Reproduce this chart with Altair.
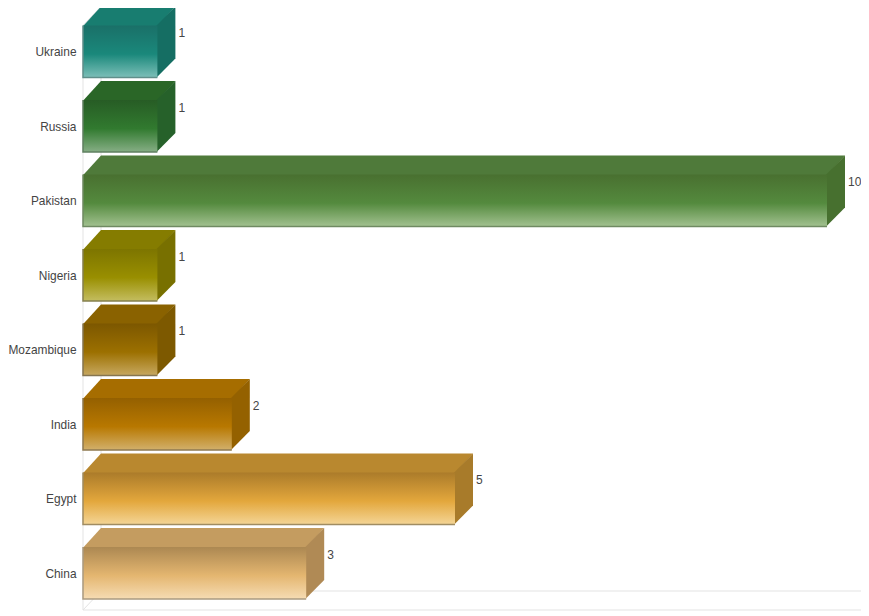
import altair as alt
import pandas as pd

categories = ["China", "Egypt", "India", "Mozambique", "Nigeria", "Pakistan", "Russia", "Ukraine"]
values = [3, 5, 2, 1, 1, 10, 1, 1]
grad_top = ["#ac8852", "#ab7b2a", "#946000", "#7c5700", "#7d7500", "#497030", "#275c25", "#1a7068"]
grad_mid = ["#e4b670", "#e3a73c", "#b87800", "#9c7000", "#998f00", "#548a3e", "#317a2f", "#1a887b"]
grad_low = ["#f6dcb3", "#f4d596", "#d2b06b", "#c7a860", "#c4bd60", "#a2c190", "#86ae85", "#7cbfb8"]
top_face = ["#c49c60", "#b9882f", "#a66d00", "#8a6200", "#857c00", "#4f7a3a", "#2a6627", "#187d70"]
side_face = ["#b08a55", "#a87b2a", "#946100", "#7d5900", "#787000", "#47702f", "#26612a", "#156e63"]
edge = ["#ab9a80", "#a08c62", "#8f7a50", "#857550", "#85804f", "#6f8a62", "#5f8060", "#5f8f8a"]

PX_X = 74.4
PX_Y = 74.5
BAR_H = 52 / PX_Y
DX = 18 / PX_X
DY = 19 / PX_Y
W, H = 778, 602
XMAX = W / PX_X
YMIN = -11 / PX_Y
YMAX = YMIN + H / PX_Y

names = "[" + ",".join(f"'{c}'" for c in categories) + "]"
tick_pos = [r + BAR_H / 2 for r in range(len(categories))]
y_axis = alt.Axis(
    values=tick_pos, title=None, domain=False, ticks=False, grid=False,
    labelExpr=names + "[floor(datum.value)]",
    labelFont="Liberation Sans", labelFontSize=11.9, labelColor="#444444", labelPadding=7,
    labelOverlap=False,
)

xs = alt.Scale(domain=[0, XMAX], nice=False, zero=False)
ys = alt.Scale(domain=[YMIN, YMAX], nice=False, zero=False)
X = lambda f: alt.X(f, type="quantitative", scale=xs, axis=None)
Y = lambda f: alt.Y(f, type="quantitative", scale=ys, axis=y_axis)

wall_color = "#e3e3e3"
walls = [
    pd.DataFrame({"x": [0, XMAX], "y": [YMIN, YMIN]}),
    pd.DataFrame({"x": [DX, XMAX], "y": [YMIN + DY, YMIN + DY]}),
    pd.DataFrame({"x": [0, DX], "y": [YMIN, YMIN + DY]}),
    pd.DataFrame({"x": [0, 0], "y": [YMIN, 7 + BAR_H]}),
    pd.DataFrame({"x": [0, DX], "y": [7 + BAR_H, 7 + BAR_H + DY]}),
    pd.DataFrame({"x": [DX, DX], "y": [YMIN + DY, 7 + BAR_H + DY]}),
]
layers = [
    alt.Chart(w).mark_line(color=wall_color, strokeWidth=1, clip=False).encode(X("x"), Y("y"))
    for w in walls
]

for r, v in enumerate(values):
    gradient = alt.Gradient(
        gradient="linear", x1=0, x2=0, y1=0, y2=1,
        stops=[
            alt.GradientStop(color=grad_top[r], offset=0),
            alt.GradientStop(color=grad_mid[r], offset=0.55),
            alt.GradientStop(color=grad_low[r], offset=1),
        ],
    )
    b0, b1 = r, r + BAR_H
    seam_y, seam_x = 0.8 / PX_Y, 0.8 / PX_X
    front = pd.DataFrame({"x": [0], "x2": [v], "y": [b0], "y2": [b1]})
    top = pd.DataFrame({"y": [b1 - seam_y, b1 + DY], "x": [0, DX], "x2": [v, v + DX]})
    side = pd.DataFrame({"x": [v - seam_x, v + DX], "y": [b0, b0 + DY], "y2": [b1, b1 + DY]})
    border = pd.DataFrame({"x": [0, 0, v], "y": [b1, b0, b0], "o": [0, 1, 2]})
    layers.append(
        alt.Chart(top).mark_area(orient="horizontal", color=top_face[r], clip=False)
        .encode(X("x"), x2="x2", y=Y("y"))
    )
    layers.append(
        alt.Chart(side).mark_area(orient="vertical", color=side_face[r], clip=False)
        .encode(X("x"), y=Y("y"), y2="y2")
    )
    layers.append(
        alt.Chart(front).mark_rect(fill=gradient, clip=False)
        .encode(X("x"), x2="x2", y=Y("y"), y2="y2")
    )
    layers.append(
        alt.Chart(border).mark_line(color=edge[r], strokeWidth=1.5, clip=False)
        .encode(X("x"), Y("y"), order="o:O")
    )

labels = pd.DataFrame({
    "x": [v + DX for v in values],
    "y": [r + BAR_H + DY - 26.5 / PX_Y for r in range(len(values))],
    "t": [str(v) for v in values],
})
layers.append(
    alt.Chart(labels).mark_text(align="left", baseline="middle", dx=3, font="Liberation Sans",
                                fontSize=12, color="#444444", opacity=0.99, clip=False)
    .encode(X("x"), Y("y"), text="t:N")
)

chart = alt.layer(*layers).properties(
    width=W, height=H,
    autosize=alt.AutoSizeParams(type="none"),
    padding={"left": 75, "top": 0, "right": 0, "bottom": 1},
    background="white",
).configure_view(stroke=None)

chart.save("out.html", embed_options={"renderer": "svg", "actions": False})
